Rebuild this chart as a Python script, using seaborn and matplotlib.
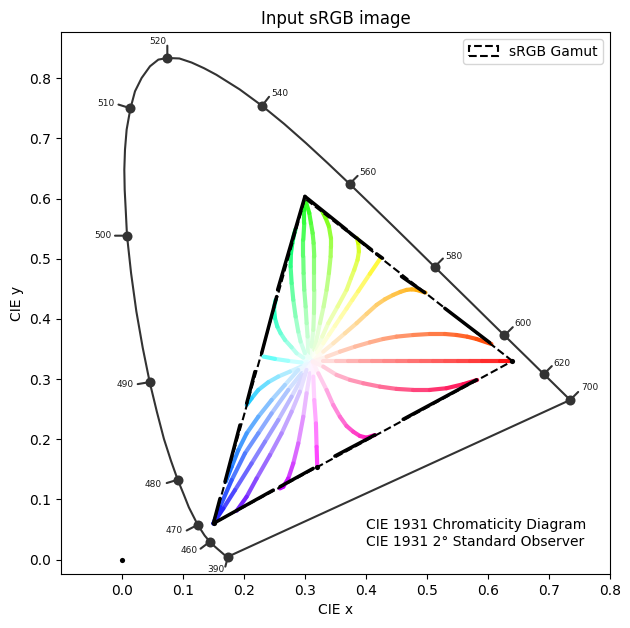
import numpy as np
import matplotlib
matplotlib.use("Agg")
import matplotlib.pyplot as plt
from matplotlib.collections import LineCollection
from matplotlib.patches import Polygon
import seaborn as sns

# spectral locus, CIE 1931 2 degree
locus_x = [0.1741, 0.1738, 0.1733, 0.1726, 0.1714, 0.1689, 0.1644, 0.1566, 0.1510, 0.1440, 0.1355, 0.1241, 0.1096,
           0.1012, 0.0913, 0.0802, 0.0687, 0.0571, 0.0454, 0.0340, 0.0235, 0.0149, 0.0082, 0.0061, 0.0044, 0.0038,
           0.0049, 0.0076, 0.0115, 0.0139, 0.0213, 0.0322, 0.0459, 0.0596, 0.0743, 0.0941, 0.1142, 0.1345, 0.1547,
           0.1929, 0.2296,
           0.2658, 0.3016, 0.3373, 0.3731, 0.4087, 0.4441, 0.4788, 0.5125, 0.5448, 0.5752, 0.6029, 0.6270, 0.6482,
           0.6658, 0.6915, 0.7079, 0.7190, 0.7347, 0.1741]
locus_y = [0.0050, 0.0049, 0.0048, 0.0048, 0.0051, 0.0069, 0.0109, 0.0177, 0.0227, 0.0297, 0.0399, 0.0578, 0.0868,
           0.1083, 0.1327, 0.1645, 0.2007, 0.2459, 0.2950, 0.3520, 0.4127, 0.4760, 0.5384, 0.5815, 0.6148, 0.6481,
           0.6814, 0.7147, 0.7369, 0.7502, 0.7784, 0.8006, 0.8200, 0.8311, 0.8338, 0.8330, 0.8262, 0.8168, 0.8059,
           0.7816, 0.7543,
           0.7243, 0.6923, 0.6589, 0.6245, 0.5896, 0.5547, 0.5202, 0.4866, 0.4544, 0.4242, 0.3965, 0.3725, 0.3514,
           0.3340, 0.3083, 0.2920, 0.2809, 0.2653, 0.0050]

wavelengths = [390, 460, 470, 480, 490, 500, 510, 520, 540, 560, 580, 600, 620, 700]
wave_x = [0.1738, 0.1440, 0.1241, 0.0913, 0.0454, 0.0082, 0.0139, 0.0743, 0.2296, 0.3731, 0.5125, 0.6270, 0.6915, 0.7347]
wave_y = [0.0049, 0.0297, 0.0578, 0.1327, 0.2950, 0.5384, 0.7502, 0.8338, 0.7543, 0.6245, 0.4866, 0.3725, 0.3083, 0.2653]

# sRGB triangle and white point
gamut_x = [0.64, 0.30, 0.15]
gamut_y = [0.33, 0.60, 0.06]
white = (0.3127, 0.329)

# image pixels, one branch per hue
g1_x = [0.3054, 0.3043, 0.3027, 0.3010, 0.2988, 0.2977, 0.2972, 0.2972, 0.2988, 0.2988, 0.2999]
g1_y = [0.3429, 0.3706, 0.3928, 0.4205, 0.4483, 0.4760, 0.5038, 0.5315, 0.5593, 0.5815, 0.5954]
g2_x = [0.3108, 0.3136, 0.3147, 0.3152, 0.3152, 0.3152, 0.3141, 0.3125, 0.3097, 0.3070, 0.3021]
g2_y = [0.3540, 0.3817, 0.4095, 0.4483, 0.4760, 0.5038, 0.5260, 0.5427, 0.5593, 0.5760, 0.5926]
g3_x = [0.3152, 0.3245, 0.3305, 0.3354, 0.3392, 0.3420, 0.3425, 0.3425, 0.3392, 0.3338, 0.3283]
g3_y = [0.3484, 0.3928, 0.4205, 0.4483, 0.4760, 0.5038, 0.5204, 0.5343, 0.5538, 0.5676, 0.5787]
lime_x = [0.3190, 0.3283, 0.3381, 0.3534, 0.3682, 0.3753, 0.3807, 0.3862, 0.3884, 0.3873, 0.3851]
lime_y = [0.3484, 0.3706, 0.3928, 0.4205, 0.4483, 0.4677, 0.4816, 0.4983, 0.5121, 0.5260, 0.5343]
yellow_x = [0.3201, 0.3299, 0.3395, 0.3490, 0.3585, 0.3681, 0.3775, 0.3872, 0.4063, 0.4227]
yellow_y = [0.3439, 0.3594, 0.3740, 0.3883, 0.4028, 0.4172, 0.4315, 0.4460, 0.4749, 0.4993]
orange_x = [0.3299, 0.3463, 0.3654, 0.3845, 0.4009, 0.4173, 0.4309, 0.4446, 0.4564, 0.4664, 0.4750, 0.4828, 0.4975]
orange_y = [0.3456, 0.3594, 0.3761, 0.3928, 0.4083, 0.4233, 0.4327, 0.4399, 0.4450, 0.4483, 0.4492, 0.4483, 0.4438]
redor_x = [0.3354, 0.3572, 0.3818, 0.4063, 0.4282, 0.4500, 0.4773, 0.5046, 0.5292, 0.5483, 0.5660, 0.5811, 0.6056]
redor_y = [0.3372, 0.3456, 0.3539, 0.3611, 0.3667, 0.3706, 0.3733, 0.3750, 0.3750, 0.3733, 0.3705, 0.3667, 0.3583]
red_x = [0.33, 0.35, 0.37, 0.39, 0.41, 0.43, 0.45, 0.47, 0.49, 0.51, 0.53, 0.55, 0.57, 0.59, 0.62, 0.64]
red_y = [0.33, 0.33, 0.33, 0.33, 0.33, 0.33, 0.33, 0.33, 0.33, 0.33, 0.33, 0.33, 0.33, 0.33, 0.33, 0.33]
mint_x = [0.2972, 0.2863, 0.2781, 0.2672, 0.2601, 0.2546, 0.2508, 0.2491, 0.2519]
mint_y = [0.3356, 0.3429, 0.3528, 0.3650, 0.3761, 0.3873, 0.4011, 0.4178, 0.4317]
spring_x = [0.2999, 0.2928, 0.2890, 0.2846, 0.2808, 0.2781, 0.2764, 0.2770, 0.2792, 0.2819, 0.2846]
spring_y = [0.3429, 0.3623, 0.3789, 0.4039, 0.4317, 0.4594, 0.4871, 0.5093, 0.5260, 0.5399, 0.5493]
cyan_x = [0.3040, 0.2944, 0.2726, 0.2508, 0.2317]
cyan_y = [0.3285, 0.3275, 0.3303, 0.3336, 0.3375]
sky_x = [0.3040, 0.2944, 0.2753, 0.2562, 0.2398, 0.2235, 0.2125, 0.2044]
sky_y = [0.3250, 0.3209, 0.3125, 0.3042, 0.2948, 0.2820, 0.2681, 0.2570]
azure_x = [0.2890, 0.2671, 0.2453, 0.2235, 0.2044, 0.1907, 0.1798, 0.1700]
azure_y = [0.3153, 0.2903, 0.2653, 0.2376, 0.2099, 0.1821, 0.1543, 0.1294]
blue1_x = [0.2944, 0.2726, 0.2453, 0.2235, 0.2016, 0.1798, 0.1607, 0.1498]
blue1_y = [0.3098, 0.2820, 0.2431, 0.2099, 0.1766, 0.1322, 0.0878, 0.0600]
blue2_x = [0.2972, 0.2781, 0.2562, 0.2344, 0.2125, 0.1852, 0.1661, 0.1498]
blue2_y = [0.3070, 0.2709, 0.2320, 0.1960, 0.1599, 0.1155, 0.0850, 0.0600]
violet_x = [0.3026, 0.2917, 0.2781, 0.2617, 0.2426, 0.2207, 0.2043, 0.1880]
violet_y = [0.3153, 0.2792, 0.2459, 0.2099, 0.1738, 0.1349, 0.1044, 0.0811]
purple_x = [0.3081, 0.3026, 0.2972, 0.2890, 0.2808, 0.2726, 0.2644, 0.2590]
purple_y = [0.3098, 0.2765, 0.2376, 0.1932, 0.1599, 0.1349, 0.1210, 0.1183]
magenta_x = [0.3136, 0.3152, 0.3179, 0.3190, 0.3201]
magenta_y = [0.3042, 0.2653, 0.2265, 0.1876, 0.1543]
pink_x = [0.3217, 0.3354, 0.3463, 0.3572, 0.3681, 0.3790, 0.3900, 0.4009, 0.4145]
pink_y = [0.3097, 0.2820, 0.2570, 0.2376, 0.2221, 0.2126, 0.2054, 0.2026, 0.2071]
rose_x = [0.3299, 0.3517, 0.3736, 0.3954, 0.4227, 0.4500, 0.4773, 0.5046, 0.5319, 0.5592, 0.5822]
rose_y = [0.3208, 0.3070, 0.2987, 0.2931, 0.2875, 0.2837, 0.2820, 0.2820, 0.2848, 0.2914, 0.2986]

branches = [(g1_x, g1_y), (g2_x, g2_y), (g3_x, g3_y), (lime_x, lime_y), (yellow_x, yellow_y), (orange_x, orange_y),
            (redor_x, redor_y), (red_x, red_y), (mint_x, mint_y), (spring_x, spring_y), (cyan_x, cyan_y),
            (sky_x, sky_y), (azure_x, azure_y), (blue1_x, blue1_y), (blue2_x, blue2_y), (violet_x, violet_y),
            (purple_x, purple_y), (magenta_x, magenta_y), (pink_x, pink_y), (rose_x, rose_y)]

# saturated pixels sitting on the triangle edge (black runs)
edge_x0 = [0.2999, 0.3710, 0.4173, 0.4582, 0.5292, 0.2999, 0.2535, 0.2180, 0.1934, 0.1607, 0.1498, 0.2589, 0.3490, 0.4609]
edge_y0 = [0.6037, 0.5453, 0.5082, 0.4705, 0.4177, 0.6037, 0.4372, 0.3125, 0.2237, 0.1016, 0.0600, 0.1211, 0.1721, 0.2332]
edge_x1 = [0.3682, 0.4091, 0.4271, 0.4964, 0.6029, 0.2551, 0.2289, 0.2044, 0.1689, 0.1498, 0.2480, 0.3135, 0.4145, 0.5811]
edge_y1 = [0.5482, 0.5149, 0.5010, 0.4437, 0.3606, 0.4483, 0.3428, 0.2598, 0.1294, 0.0600, 0.1155, 0.1516, 0.2071, 0.2987]
dark_x = [0.0, 0.64, 0.3201, 0.15]
dark_y = [0.0, 0.33, 0.1543, 0.06]

# label and stub offsets from each dot, in pixels
label_dx = [-12.6, -21, -24, -24.4, -25, -24, -24.6, -9.7, 18, 18, 19, 19, 18, 20]
label_dy = [-12.7, -8.7, -6, -4.3, -2, 0, 5, 16.3, 12.7, 11, 10.7, 11.7, 11, 12]
stub_dx = [-2.7, -9.3, -11, -11, -12, -12, -12, 0, 7, 8, 8.3, 8.3, 8, 8]
stub_dy = [-10, -7, -5.7, -3.3, -2, 0, 3.7, 12.3, 9, 8, 8.3, 8.3, 8, 8]

XYZ_TO_RGB = np.array([[3.2406, -1.5372, -0.4986],
                       [-0.9689, 1.8758, 0.0415],
                       [0.0557, -0.2040, 1.0570]])


def xy_to_srgb(x, y):
    rgb = XYZ_TO_RGB @ np.array([x / y, 1.0, (1 - x - y) / y])
    rgb = np.clip(rgb, 0, None)
    rgb = rgb / rgb.max()
    return np.where(rgb <= 0.0031308, 12.92 * rgb, 1.055 * rgb ** (1 / 2.4) - 0.055)


fig = plt.figure(figsize=(6.3, 6.28), dpi=100)
ax = fig.add_axes([61 / 630, 1 - 574 / 628, 549 / 630, 542 / 628])

# coloured branches, white at the centre
for bx, by in branches:
    px = [white[0]] + list(bx)
    py = [white[1]] + list(by)
    segs = [[(px[i], py[i]), (px[i + 1], py[i + 1])] for i in range(len(px) - 1)]
    cols = [xy_to_srgb((px[i] + px[i + 1]) / 2, (py[i] + py[i + 1]) / 2) for i in range(len(px) - 1)]
    ax.add_collection(LineCollection(segs, colors=cols, linewidths=3.0, capstyle="round", zorder=2))

segs = [[(a, b), (c, d)] for a, b, c, d in zip(edge_x0, edge_y0, edge_x1, edge_y1)]
ax.add_collection(LineCollection(segs, colors="black", linewidths=2.5, capstyle="round", zorder=3))
sns.scatterplot(x=dark_x, y=dark_y, color="black", s=14, linewidth=0, ax=ax, zorder=3)

ax.add_patch(Polygon(list(zip(gamut_x, gamut_y)), closed=True, fill=False, edgecolor="black", linewidth=1.5,
                     linestyle="--", label="sRGB Gamut", zorder=3))

sns.lineplot(x=locus_x, y=locus_y, sort=False, estimator=None, color="#333333", linewidth=1.5, ax=ax, zorder=4)
sns.scatterplot(x=wave_x, y=wave_y, color="#333333", s=52, linewidth=0, ax=ax, zorder=5)

px2pt = 72 / fig.dpi
for i, w in enumerate(wavelengths):
    ax.annotate("", xy=(wave_x[i], wave_y[i]), xycoords="data",
                xytext=(stub_dx[i] * px2pt, stub_dy[i] * px2pt), textcoords="offset points",
                arrowprops=dict(arrowstyle="-", color="#333333", lw=1.5, shrinkA=0, shrinkB=0), zorder=4)
    ax.annotate(str(w), xy=(wave_x[i], wave_y[i]), xytext=(label_dx[i] * px2pt, label_dy[i] * px2pt),
                textcoords="offset points", ha="center", va="center", fontsize=6.5, color="#1a1a1a")

ax.text(0.40, 0.018, "CIE 1931 Chromaticity Diagram\nCIE 1931 2° Standard Observer", fontsize=10,
        ha="left", va="bottom", linespacing=1.25)

ax.set_xlim(-0.1, 0.8)
ax.set_ylim(-0.024, 0.877)
ax.set_xticks([0.0, 0.1, 0.2, 0.3, 0.4, 0.5, 0.6, 0.7, 0.8])
ax.set_yticks([0.0, 0.1, 0.2, 0.3, 0.4, 0.5, 0.6, 0.7, 0.8])
ax.set_title("Input sRGB image")
ax.set_xlabel("CIE x")
ax.set_ylabel("CIE y")
ax.legend(loc="upper right", borderaxespad=0.5, handlelength=2.1)

fig.savefig("out.png", dpi=100)
